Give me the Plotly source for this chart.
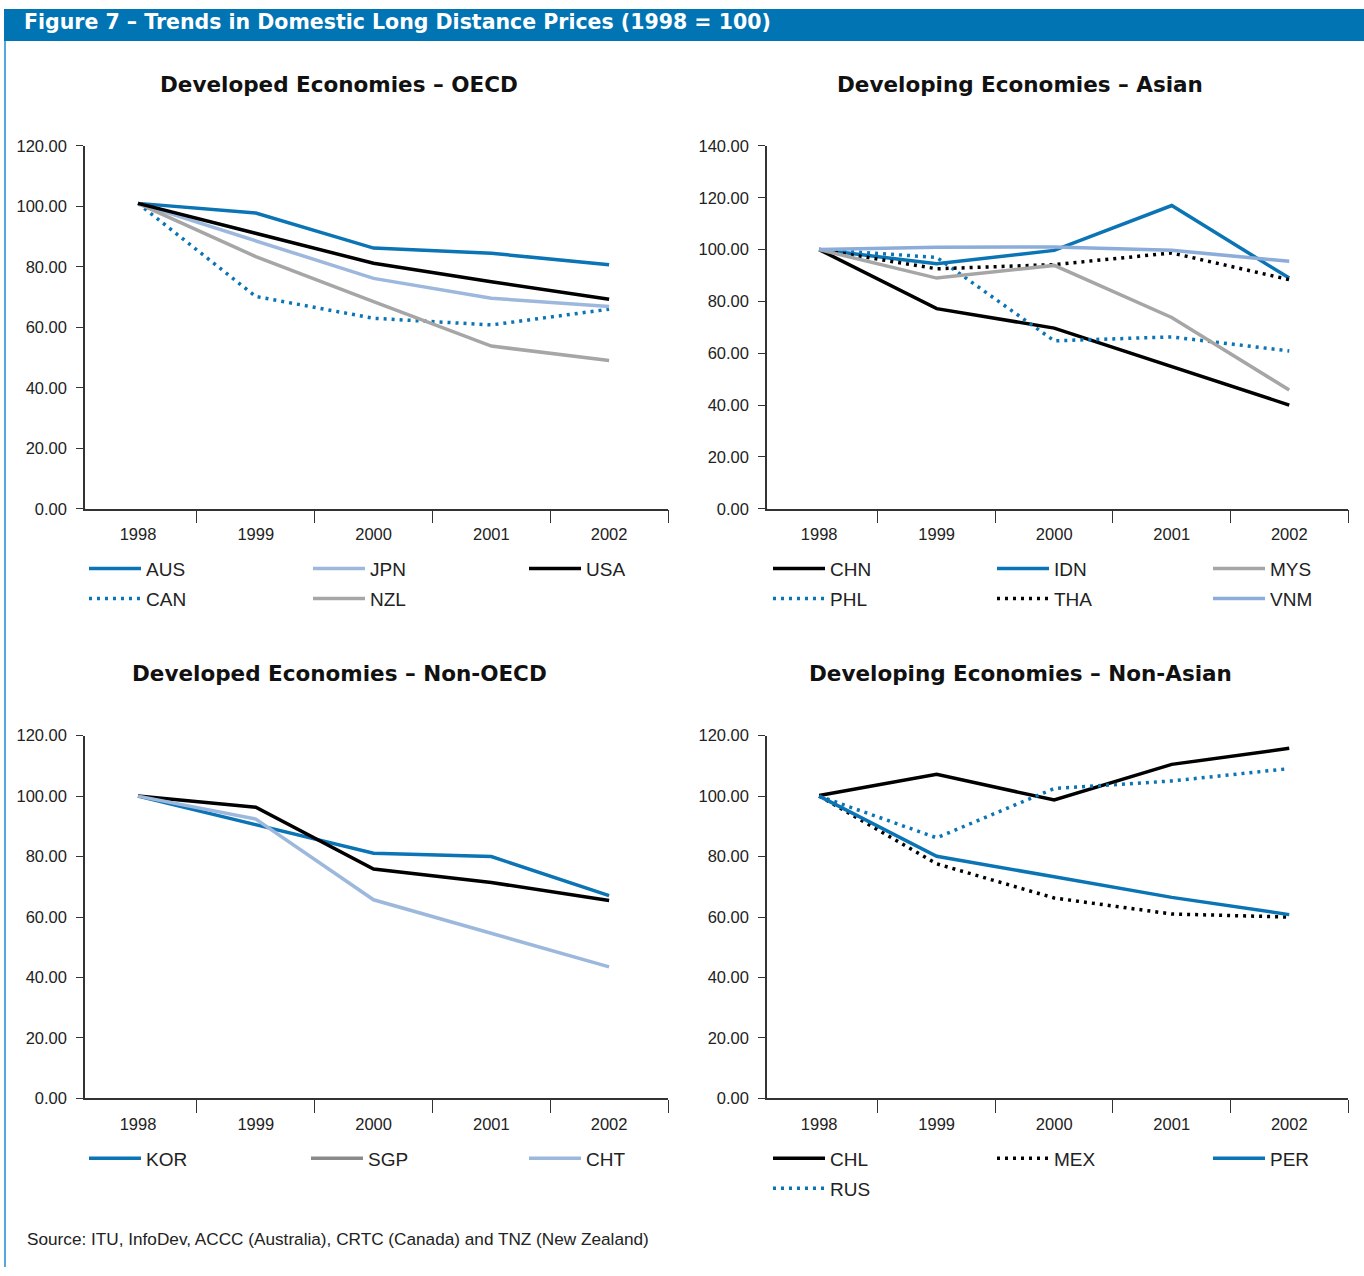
import plotly.graph_objects as go

W, H = 1364, 1276

years = ["1998", "1999", "2000", "2001", "2002"]

# Developed Economies - OECD
aus = [101.0, 97.8, 86.2, 84.5, 80.7]
jpn = [101.0, 88.6, 76.2, 69.6, 66.9]
usa = [101.0, 91.2, 81.2, 75.1, 69.3]
can = [101.0, 70.2, 63.0, 60.8, 66.0]
nzl = [101.0, 83.4, 68.5, 53.8, 49.0]

# Developing Economies - Asian
chn = [100.0, 77.2, 69.7, 54.8, 40.0]
idn = [100.0, 94.5, 99.7, 117.0, 89.0]
mys = [100.0, 89.0, 93.9, 73.8, 45.8]
phl = [100.0, 97.0, 64.8, 66.3, 60.9]
tha = [100.0, 92.6, 94.2, 98.7, 88.4]
vnm = [100.0, 100.9, 101.0, 99.7, 95.5]

# Developed Economies - Non-OECD
kor = [100.0, 90.4, 81.1, 80.0, 67.1]
sgp = [100.0, 96.3, 75.9, 71.4, 65.5]
cht = [100.0, 92.4, 65.7, 54.7, 43.5]

# Developing Economies - Non-Asian
chl = [100.2, 107.2, 98.7, 110.5, 115.8]
mex = [100.0, 77.6, 66.3, 61.0, 60.0]
per = [100.0, 80.1, 73.3, 66.5, 60.8]
rus = [100.0, 86.2, 102.5, 105.0, 109.1]

titles = ["Developed Economies – OECD", "Developing Economies – Asian",
          "Developed Economies – Non-OECD", "Developing Economies – Non-Asian"]
header = "Figure 7 – Trends in Domestic Long Distance Prices (1998 = 100)"
source = "Source: ITU, InfoDev, ACCC (Australia), CRTC (Canada) and TNZ (New Zealand)"

BLUE = "#0B74B5"
LIGHT = "#9DB8DD"
VNMC = "#8CACD9"
GRAY = "#A6A6A6"
DGRAY = "#8A8A8A"
BLACK = "#000000"
HEAD = "#0174B3"
DOT = "3px,5px"

TICKF = "Liberation Sans, Arial, sans-serif"
TXT = "Liberation Sans, Arial, sans-serif"
BOLD = "DejaVu Sans, Open Sans, sans-serif"

# page capture maps figure y to screen y as 0.9864*y + 8; compensate
VS, VO = 0.9864, 8.0

def px_x(p):
    return p / W

def px_y(t):
    p = (t - VO) / VS
    return 1 - p / H

fig = go.Figure()

# (name, data, color, dash, axis index, legend pos (x, y))
series = [
    ("AUS", aus, BLUE, None, 1, (88, 568)),
    ("CAN", can, BLUE, DOT, 1, (88, 598)),
    ("JPN", jpn, LIGHT, None, 1, (312, 568)),
    ("NZL", nzl, GRAY, None, 1, (312, 598)),
    ("USA", usa, BLACK, None, 1, (528, 568)),
    ("CHN", chn, BLACK, None, 2, (772, 568)),
    ("PHL", phl, BLUE, DOT, 2, (772, 598)),
    ("IDN", idn, BLUE, None, 2, (996, 568)),
    ("THA", tha, BLACK, DOT, 2, (996, 598)),
    ("MYS", mys, GRAY, None, 2, (1212, 568)),
    ("VNM", vnm, VNMC, None, 2, (1212, 598)),
    ("KOR", kor, BLUE, None, 3, (88, 1158)),
    ("SGP", sgp, BLACK, None, 3, (310, 1158)),
    ("CHT", cht, LIGHT, None, 3, (528, 1158)),
    ("CHL", chl, BLACK, None, 4, (772, 1158)),
    ("RUS", rus, BLUE, DOT, 4, (772, 1188)),
    ("MEX", mex, BLACK, DOT, 4, (996, 1158)),
    ("PER", per, BLUE, None, 4, (1212, 1158)),
]

layout_legends = {}
for i, (name, vals, col, dash, ax, (lx, ly)) in enumerate(series):
    lid = "legend" if i == 0 else f"legend{i+1}"
    xa = "x" if ax == 1 else f"x{ax}"
    ya = "y" if ax == 1 else f"y{ax}"
    line = dict(color=col, width=3.5)
    if dash:
        line["dash"] = dash
    if name == "SGP":
        # line drawn black, legend sample shown in grey as in the original
        fig.add_trace(go.Scatter(x=years, y=vals, mode="lines", line=line, name=name,
                                 xaxis=xa, yaxis=ya, showlegend=False))
        fig.add_trace(go.Scatter(x=[None], y=[None], mode="lines",
                                 line=dict(color=DGRAY, width=3.5), name=name,
                                 xaxis=xa, yaxis=ya, legend=lid, showlegend=True))
    else:
        fig.add_trace(go.Scatter(x=years, y=vals, mode="lines", line=line, name=name,
                                 xaxis=xa, yaxis=ya, legend=lid, showlegend=True))
    layout_legends[lid] = dict(
        x=px_x(lx - 4), y=px_y(ly), xanchor="left", yanchor="middle",
        orientation="v", bgcolor="rgba(0,0,0,0)", borderwidth=0,
        font=dict(family=TXT, size=19, color="#222"), itemwidth=52,
        itemclick=False, itemdoubleclick=False,
    )

domains_x = {1: (85, 668), 2: (767, 1348), 3: (85, 668), 4: (767, 1348)}
xranges = {1: [-0.45, 4.5], 2: [-0.444, 4.5], 3: [-0.45, 4.5], 4: [-0.444, 4.5]}
domains_y = {1: (145, 508), 2: (145, 508), 3: (735, 1098), 4: (735, 1098)}
yranges = {1: 120, 2: 140, 3: 120, 4: 120}

axes = {}
shapes = []
for ax in range(1, 5):
    sx = "" if ax == 1 else str(ax)
    x0, x1 = domains_x[ax]
    y0, y1 = domains_y[ax]
    axes[f"xaxis{sx}"] = dict(
        domain=[px_x(x0), px_x(x1)], anchor=f"y{sx}", type="category",
        categoryorder="array", categoryarray=years, range=xranges[ax],
        tickson="boundaries", ticks="outside", ticklen=13, tickwidth=1.3,
        tickcolor="#333", showline=True, linecolor="#333", linewidth=1.5,
        showgrid=False, zeroline=False, fixedrange=True, ticklabelstandoff=10,
        tickfont=dict(family=TICKF, size=16.5, color="#222"),
    )
    axes[f"yaxis{sx}"] = dict(
        domain=[px_y(y1), px_y(y0)], anchor=f"x{sx}", range=[0, yranges[ax]],
        dtick=20, tick0=0, tickformat=".2f", ticks="outside", ticklen=7,
        tickwidth=1.3, tickcolor="#333", showline=True, linecolor="#333",
        linewidth=1.5, showgrid=False, zeroline=False, fixedrange=True,
        ticklabelstandoff=6,
        tickfont=dict(family=TICKF, size=16.5, color="#222"),
    )
    # tick mark at the origin of the category axis
    shapes.append(dict(type="line", xref=f"x{sx} domain", yref=f"y{sx}",
                       x0=0, x1=0, ysizemode="pixel", yanchor=0, y0=0, y1=-13,
                       line=dict(color="#333", width=1.3)))

annotations = [
    dict(text=header, x=px_x(22), y=px_y(21), xref="paper", yref="paper",
         xanchor="left", yanchor="middle", showarrow=False,
         font=dict(family=BOLD, size=20.5, color="white", weight="bold")),
    dict(text=source, x=px_x(25), y=px_y(1239), xref="paper", yref="paper",
         xanchor="left", yanchor="middle", showarrow=False,
         font=dict(family=TXT, size=17.2, color="#222")),
]
title_pos = [(339, 84), (1020, 84), (339, 673), (1020, 673)]
for t, (tx, ty) in zip(titles, title_pos):
    annotations.append(dict(text=t, x=px_x(tx), y=px_y(ty), xref="paper", yref="paper",
                            xanchor="center", yanchor="middle", showarrow=False,
                            font=dict(family=BOLD, size=21.5, color="#111", weight="bold")))

shapes += [
    dict(type="rect", xref="paper", yref="paper", x0=px_x(4), x1=1, y0=px_y(40), y1=1,
         fillcolor=HEAD, line=dict(width=0), layer="below"),
    dict(type="line", xref="paper", yref="paper", x0=px_x(5), x1=px_x(5), y0=0, y1=px_y(40),
         line=dict(color="#5AA6DC", width=2)),
]

fig.update_layout(
    width=W, height=H, margin=dict(l=0, r=0, t=0, b=0),
    paper_bgcolor="white", plot_bgcolor="white",
    annotations=annotations, shapes=shapes, showlegend=True,
    **axes, **layout_legends,
)

post = ("document.body.style.margin='0';document.body.style.padding='0';"
        "document.documentElement.style.overflow='hidden';"
        "var d=document.getElementById('{plot_id}');"
        "d.style.position='absolute';d.style.left='0px';d.style.top='0px';")

fig.write_html("out.html", post_script=post, config={"displayModeBar": False})
